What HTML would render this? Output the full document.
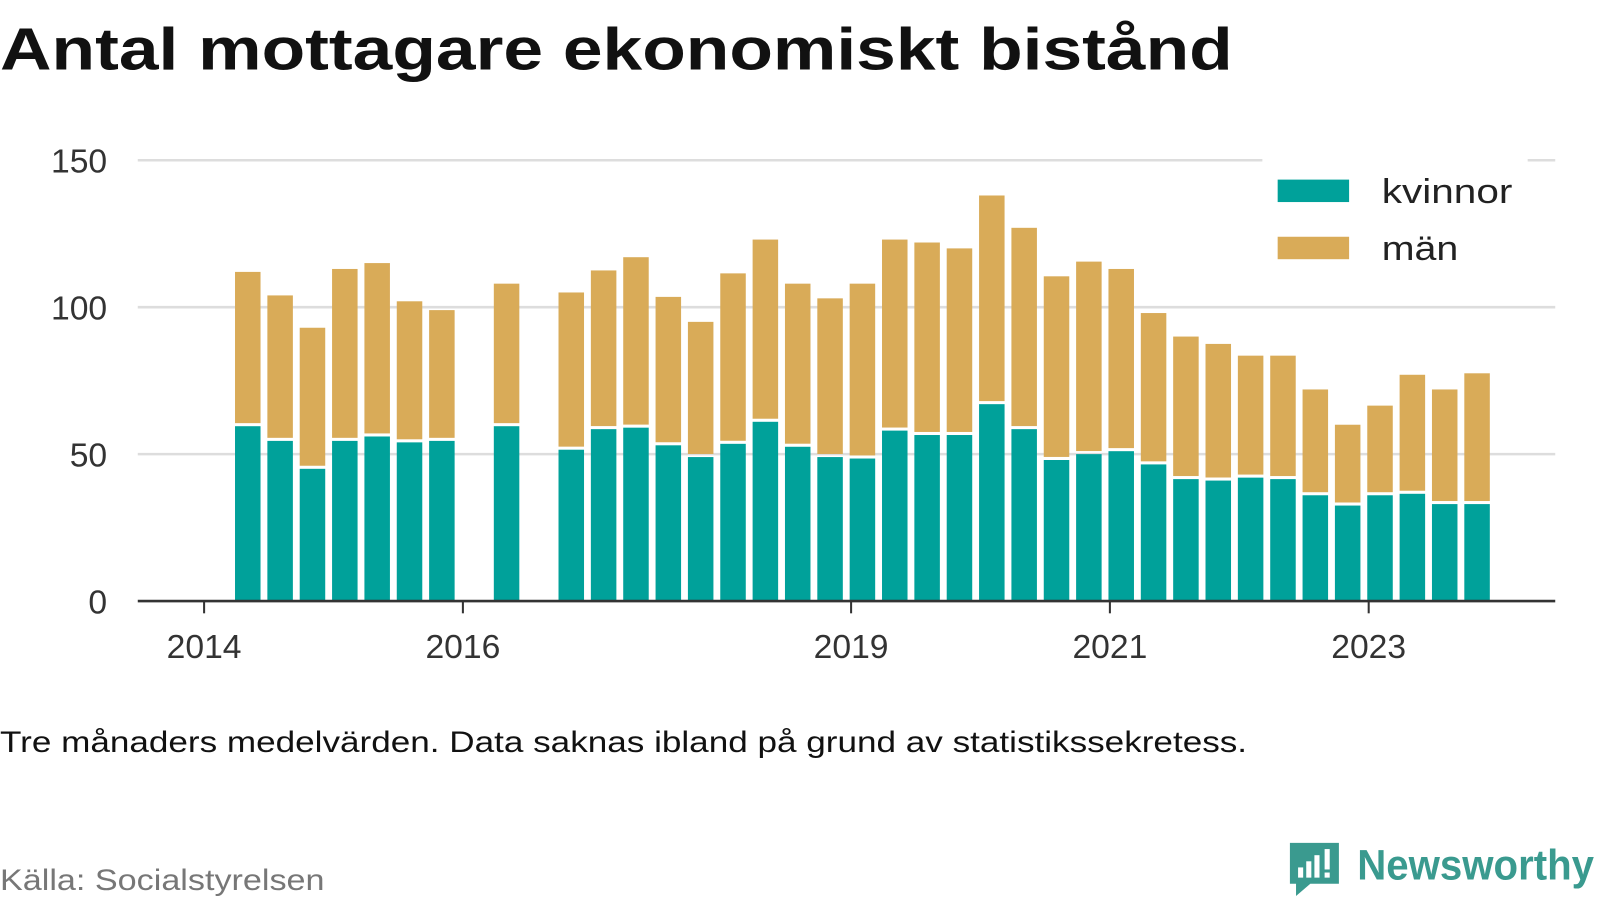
<!DOCTYPE html>
<html><head><meta charset="utf-8"><style>
body{margin:0;background:#fff;width:1600px;height:900px;overflow:hidden;font-family:"Liberation Sans","DejaVu Sans",sans-serif}
</style></head><body>
<svg width="1600" height="900">
<g transform="scale(1.0205)">
<text x="0" y="68" font-size="58" font-weight="bold" fill="#111" textLength="1208" lengthAdjust="spacingAndGlyphs">Antal mottagare ekonomiskt bistånd</text>
<g id="grid"></g><g id="bars"></g><g id="axes"></g>
<g>
<rect x="1237" y="155" width="260" height="115" fill="#fff"/>
<rect x="1252" y="176" width="70" height="22" fill="#00a19a"/>
<text x="1354" y="199" font-size="34" fill="#222" textLength="128" lengthAdjust="spacingAndGlyphs">kvinnor</text>
<rect x="1252" y="232" width="70" height="22" fill="#d9ab58"/>
<text x="1354" y="255" font-size="34" fill="#222" textLength="75" lengthAdjust="spacingAndGlyphs">män</text>
</g>
<text x="0" y="737" font-size="29" fill="#111" textLength="1222" lengthAdjust="spacingAndGlyphs">Tre månaders medelvärden. Data saknas ibland på grund av statistikssekretess.</text>
<text x="0" y="872" font-size="29" fill="#777" textLength="318" lengthAdjust="spacingAndGlyphs">Källa: Socialstyrelsen</text>
<g>
<path d="M1264 826 h48 v40 h-28 l-14 12 v-12 h-6 z" fill="#3a9a8f"/>
<rect x="1272" y="850" width="5" height="10" fill="#fff"/><rect x="1280" y="844" width="5" height="16" fill="#fff"/><rect x="1288" y="838" width="5" height="22" fill="#fff"/><rect x="1298" y="832" width="5" height="20" fill="#fff"/><rect x="1298" y="855" width="5" height="5" fill="#fff"/>
<text x="1330" y="862" font-size="42" font-weight="bold" fill="#3a9a8f" textLength="232" lengthAdjust="spacingAndGlyphs">Newsworthy</text>
</g>
</g>
</svg>
<script>
const quarters=[1,2,3,4,5,6,7,9,11,12,13,14,15,16,17,18,19,20,21,22,23,24,25,26,27,28,29,30,31,32,33,34,35,36,37,38,39];
const women=[59.5,54.5,45,54.5,56,54,54.5,59.5,51.5,58.5,59,53,49,53.5,61,52.5,49,48.5,58,56.5,56.5,67,58.5,48,50,51,46.5,41.5,41,42,41.5,36,32.5,36,36.5,33,33];
const totals=[112,104,93,113,115,102,99,108,105,112.5,117,103.5,95,111.5,123,108,103,108,123,122,120,138,127,110.5,115.5,113,98,90,87.5,83.5,83.5,72,60,66.5,77,72,77.5];
const yTicks=[0,50,100,150];
const yearLabels=["2014","2016","2019","2021","2023"];
const yearQuarters=[0,8,20,28,36];
const NS="http://www.w3.org/2000/svg";
const y=v=>589-v*2.88;
const xq=q=>200+q*31.7;
function mk(t,a,p){const e=document.createElementNS(NS,t);for(const k in a)e.setAttribute(k,a[k]);p.appendChild(e);return e;}
const grid=document.getElementById('grid'),bars=document.getElementById('bars'),axes=document.getElementById('axes');
yTicks.forEach(v=>{
 if(v>0){const l=mk('line',{x1:135,x2:1524,y1:y(v),y2:y(v),stroke:'#ddd','stroke-width':2.5},grid);
 
 }
 const t=mk('text',{x:105,y:y(v)+12,'font-size':33,fill:'#333','text-anchor':'end'},axes);t.textContent=v;
 
 
});
quarters.forEach((q,i)=>{
 const cx=xq(q+0.35),w=25;
 const r1=mk('rect',{x:cx-w/2,y:y(women[i]),width:w,height:y(0)-y(women[i]),fill:'#00a19a'},bars);
 
 
 const r2=mk('rect',{x:cx-w/2,y:y(totals[i]),width:w,height:y(women[i])-y(totals[i])-3,fill:'#d9ab58'},bars);
 
 
});
const ax=mk('line',{x1:135,x2:1524,y1:589,y2:589,stroke:'#333','stroke-width':2.5},axes);


yearLabels.forEach((lab,i)=>{
 const x=xq(yearQuarters[i]);
 mk('line',{x1:x,x2:x,y1:589,y2:601,stroke:'#333','stroke-width':2},axes);
 const t=mk('text',{x:x,y:645,'font-size':33,fill:'#333','text-anchor':'middle'},axes);t.textContent=lab;
 
 
});
</script>
</body></html>
